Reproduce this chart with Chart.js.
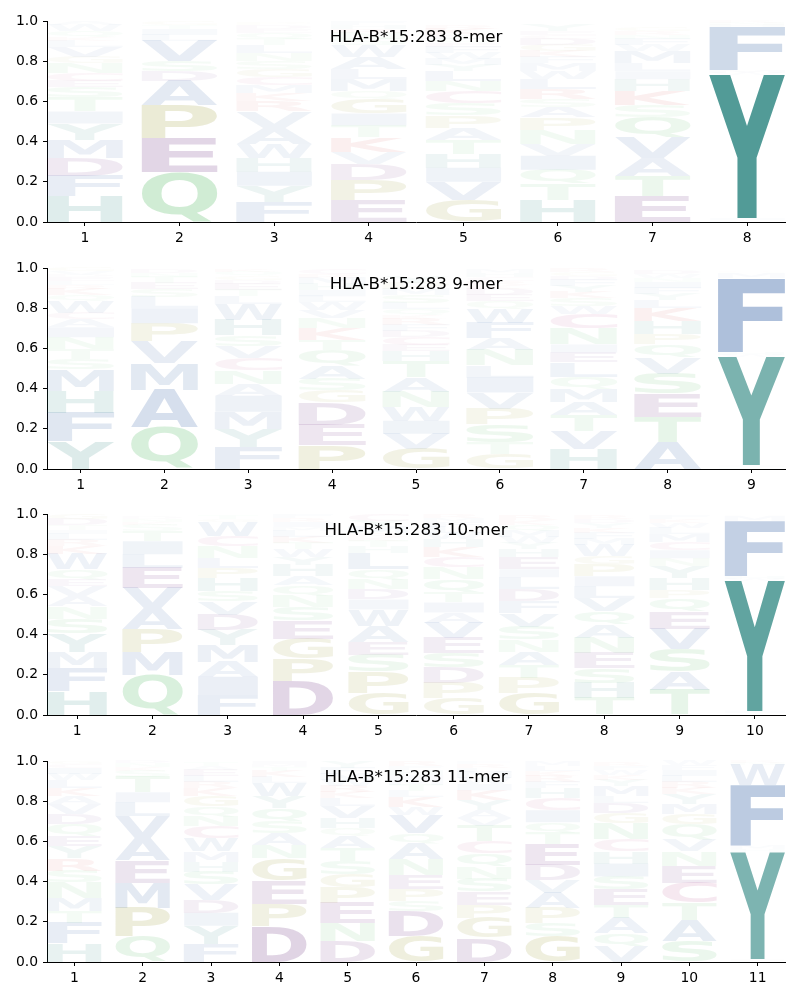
<!DOCTYPE html>
<html>
<head>
<meta charset="utf-8">
<script src="https://cdn.jsdelivr.net/npm/chart.js@4.4.0/dist/chart.umd.min.js"></script>
<style>
  html, body { margin: 0; padding: 0; background: #fff; }
  #wrap { position: relative; width: 800px; height: 1000px; }
  .panel { position: absolute; left: 0; width: 800px; height: 247px; }
</style>
</head>
<body>
<div id="wrap">
  <div class="panel" style="top:0px"><canvas id="c8"></canvas></div>
  <div class="panel" style="top:247px"><canvas id="c9"></canvas></div>
  <div class="panel" style="top:493px"><canvas id="c10"></canvas></div>
  <div class="panel" style="top:740px"><canvas id="c11"></canvas></div>
</div>
<script>
// letters per position, bottom to top; heights in percent of the stack
const letters8 = ["HFDMYITSECNGVLKQWA", "QEPADSVLITG", "FYIHWAVRKMCGSNLTQEDP", "EPDVKTIGQMLAWSNRHF",
  "GVIHTAPSCNLYMWFEQDKR", "HTQIVNPASRLWMFKGDCEY", "ETAVQSKHILMWFNRG", "LIYWMFHNR"];
const heights8 = [
  [13, 10, 9, 9, 8, 6, 7, 5, 3, 4, 5, 3, 5, 3, 2, 3, 3, 2],
  [25, 17, 16, 12, 5, 5, 10, 3, 3, 2, 2],
  [10, 8, 7, 7, 7, 8, 8, 5, 4, 4, 4, 4, 4, 4, 4, 3, 3, 2, 2, 1],
  [11, 10, 8, 6, 7, 6, 6, 7, 4, 6, 5, 6, 6, 3, 3, 2, 2, 2],
  [11, 9, 7, 7, 7, 6, 6, 6, 6, 5, 5, 3, 3, 3, 3, 2, 2, 2, 3, 2],
  [11, 8, 7, 7, 6, 7, 6, 5, 4, 5, 5, 4, 4, 3, 3, 3, 3, 2, 2, 3],
  [13, 10, 9, 10, 10, 6, 7, 6, 4, 4, 6, 3, 3, 2, 2, 2],
  [1, 1, 71, 1, 1.5, 21.5, 1, 1, 1]
];

const letters9 = ["YFHMSTNIACWQKRLEDVG", "QAMVPILSETND", "FYMIANCVSHWLTEDGQK", "PEDGSAQTKNVWLIHMRC",
  "GVIWNATHECDFRKQLSMPY", "GTSPVILNAFWQEDKRCHM", "HVTAMQLEINCWSKYFDGR", "ATESVQPHKLYFINWD", "LIYWHFMNR"];
const heights9 = [
  [14, 14, 11, 10.5, 5, 5, 6, 5, 4, 3, 6, 3, 3, 2, 2, 2, 1, 2, 2],
  [21, 18.5, 13, 11, 9, 7.5, 5.5, 4, 3, 3, 2, 2],
  [11, 9, 8.5, 8, 6, 6.5, 6, 6, 5.5, 7.5, 8, 4, 3, 3, 2, 2, 2, 1.5],
  [12, 10, 11, 6, 6, 6.5, 7.5, 5, 6, 5, 4, 4, 3, 3, 3, 3, 2, 2.5],
  [10, 7.5, 6.5, 7, 7.5, 7, 8, 5, 3, 4, 3, 3, 3, 2, 3, 3, 4, 3, 3, 3],
  [7.5, 6, 9, 7.5, 8, 7.5, 6, 7.5, 6, 7.5, 7, 4, 3, 3, 2, 2, 2, 2, 2],
  [10, 9, 8, 6.5, 6.5, 6, 7, 5, 4, 8, 7, 4, 4, 3, 3, 3, 2, 2, 2],
  [13.5, 12.5, 11.5, 10, 8, 6.5, 5, 6.5, 6.5, 4, 3, 3, 3, 2, 2, 2],
  [1, 0.8, 54, 1, 1.5, 36.5, 2.5, 0.5, 0.5]
];

const letters10 = ["HFMYSNAVEQWKRLITDG", "QMPAVELITSKND", "FIAMYDVSHPLNCWGT", "DPGESNQAHYWTKLMIRF",
  "GPSEAWIDNQLHTKRMYC", "GPDSEVAITQNCKHWLFMR", "GPTANSVFDLIEHYWMQKR", "THSENAQVLIPGWMFKYDR",
  "TASVEQPHYNICMLWKF", "LIYWHFMN"];
const heights10 = [
  [12, 11.5, 8, 9, 7.5, 6, 5, 5, 3.5, 5, 7.5, 4, 3, 3, 2, 2.5, 3, 2.5],
  [20, 11.5, 11.5, 10, 10, 10, 7, 6.5, 5, 3, 1.5, 1.5, 1],
  [10, 9, 7.5, 8.5, 7.5, 7.5, 6.5, 5, 6.5, 5, 5, 6, 5, 7, 1.5, 2],
  [17, 11, 10, 9, 6.5, 6, 5, 4.5, 5.5, 4, 4, 3, 3, 3, 2, 2.5, 2, 2],
  [11, 10.5, 8.5, 6.5, 8, 8, 5, 5, 5, 5, 8, 3, 3, 2, 2, 3, 3, 3],
  [8.5, 7.5, 7.5, 7.5, 7.5, 7.5, 5, 5, 5, 6.5, 6, 5, 5, 4, 3, 3, 2.5, 2, 2],
  [11, 7.5, 6.5, 6.5, 6, 6.5, 6.5, 6, 6, 6, 4, 6, 4, 3, 3, 3, 3, 2.5, 2.5],
  [8.5, 7.5, 7.5, 7.5, 7.5, 6.5, 6.5, 6.5, 6, 5, 6, 4, 5.5, 3, 3, 2.5, 2.5, 2, 2],
  [12.5, 9, 11.5, 10, 8.5, 6.5, 4, 6, 6, 4, 4, 4, 4, 3, 2.5, 2, 2],
  [1, 1.2, 64.6, 1, 1.5, 27, 2.5, 0.6]
];

const letters11 = ["HFTMNSRYEQDVAKLWICG", "QPMEAVLITSKND", "FYIDVSHMWCNQGKRLEAT", "DPEGNASQYWLKTMI",
  "DNEPGSTAQHVLKRWMFY", "GDSPENAQVWKLTMIHFR", "DGPESNQCTVAYKIWMLRF", "GSPAVDETQICHFRKLM",
  "VQATESIHCNGDLMYKWFR", "SATCENVQGMYKRLIFW", "LIYHMFWNR"];
const heights11 = [
  [9.5, 10, 6, 6.5, 7.5, 6, 6, 6, 5, 6, 5, 5, 4, 4, 4, 3, 3, 2, 1.5],
  [13, 14, 12.5, 11, 11, 11, 7, 5, 7.5, 3, 2, 2, 1.5],
  [9, 9, 6.5, 6.5, 7.5, 6.5, 5, 5, 6.5, 6, 5, 5, 5, 4, 3, 3, 3, 2, 2],
  [18, 11, 11.5, 11, 6.5, 6, 6, 6.5, 6, 6.5, 3, 3, 2, 1.5, 1.5],
  [10.5, 9, 10, 7.5, 6.5, 6.5, 6.5, 6, 4, 5, 6, 4, 3, 3, 3, 3, 3, 3],
  [13, 12.5, 5, 6, 7, 7.5, 8, 5, 9, 4, 5, 3, 3, 2.5, 2.5, 2.5, 2, 2.3],
  [12, 10, 6.5, 6.5, 6.5, 6, 6.5, 6, 7.5, 4, 4, 5, 5, 3, 3, 3, 2, 2, 1],
  [13, 6.5, 7.5, 7.5, 6.5, 7.5, 10, 6, 5, 6, 6, 5, 3, 3, 2.5, 2.5, 2.5],
  [8, 6.5, 7.5, 6.5, 7.5, 6.5, 6.5, 6, 6, 8, 5, 5, 3.5, 5, 3, 2.5, 2.5, 2, 2],
  [10.5, 10.5, 8.5, 10, 8.5, 7, 6, 7.5, 5, 5, 5, 3, 3, 3, 3, 2.5, 2.5],
  [0.7, 0.6, 53.4, 1.5, 1.8, 30, 10, 1, 1]
];

const panels = [
  { id: "c8", title: "HLA-B*15:283 8-mer", letters: letters8, heights: heights8 },
  { id: "c9", title: "HLA-B*15:283 9-mer", letters: letters9, heights: heights9 },
  { id: "c10", title: "HLA-B*15:283 10-mer", letters: letters10, heights: heights10 },
  { id: "c11", title: "HLA-B*15:283 11-mer", letters: letters11, heights: heights11 }
];

// residue colour groups; opacity follows the letter height
const groupColor = {
  blue: [32, 83, 155], teal: [11, 114, 108], purple: [85, 14, 108],
  green: [67, 179, 83], olive: [128, 128, 0], red: [200, 30, 30], pink: [170, 30, 110]
};
const residueGroup = {
  A: "blue", V: "blue", L: "blue", I: "blue", M: "blue", F: "blue", W: "blue",
  Y: "teal", H: "teal", D: "purple", E: "purple",
  S: "green", T: "green", N: "green", Q: "green",
  G: "olive", P: "olive", K: "red", R: "red", C: "pink"
};

const FONT = "DejaVu Sans";
const glyphCache = {};
function glyph(ctx, ch) {
  if (!glyphCache[ch]) {
    ctx.save();
    ctx.font = `bold 200px "${FONT}"`;
    const m = ctx.measureText(ch);
    ctx.restore();
    glyphCache[ch] = {
      l: m.actualBoundingBoxLeft, a: m.actualBoundingBoxAscent,
      w: m.actualBoundingBoxLeft + m.actualBoundingBoxRight,
      h: m.actualBoundingBoxAscent + m.actualBoundingBoxDescent
    };
  }
  return glyphCache[ch];
}

const logoPlugin = {
  id: "logo",
  afterDatasetsDraw(chart) {
    const ctx = chart.ctx;
    chart.data.datasets.forEach((ds, d) => {
      const meta = chart.getDatasetMeta(d);
      meta.data.forEach((bar, i) => {
        const ch = ds.letters[i];
        const h = ds.data[i].y;
        if (!ch || !h) return;
        const p = bar.getProps(["x", "y", "base", "width"], true);
        const top = Math.min(p.y, p.base), bh = Math.abs(p.base - p.y);
        if (bh < 0.3) return;
        const g = glyph(ctx, ch);
        const c = groupColor[residueGroup[ch]];
        ctx.save();
        ctx.font = `bold 200px "${FONT}"`;
        ctx.textAlign = "left";
        ctx.textBaseline = "alphabetic";
        ctx.fillStyle = `rgba(${c[0]},${c[1]},${c[2]},${Math.min(1, h)})`;
        ctx.translate(p.x - p.width / 2, top);
        ctx.scale(p.width / g.w, bh / g.h);
        ctx.fillText(ch, g.l, g.a);
        ctx.restore();
      });
    });
    const area = chart.chartArea;
    ctx.save();
    ctx.font = `16.7px "${FONT}"`;
    ctx.fillStyle = "#000";
    ctx.textAlign = "center";
    ctx.textBaseline = "alphabetic";
    ctx.fillText(chart.options.plugins.logo.title, (area.left + area.right) / 2, area.top + 21.3);
    ctx.restore();
  }
};

const tickFont = { family: FONT, size: 13.9 };

panels.forEach(panel => {
  const positions = panel.letters.map((_, i) => i + 1);
  const depth = Math.max(...panel.letters.map(s => s.length));
  const datasets = [];
  for (let k = 0; k < depth; k++) {
    datasets.push({
      data: positions.map((p, i) => ({ x: p, y: (panel.heights[i][k] || 0) / 100 })),
      letters: positions.map((p, i) => panel.letters[i][k] || ""),
      backgroundColor: "rgba(0,0,0,0)",
      borderWidth: 0,
      categoryPercentage: 1,
      barPercentage: 0.8
    });
  }

  new Chart(document.getElementById(panel.id), {
    type: "bar",
    data: { datasets },
    plugins: [logoPlugin],
    options: {
      responsive: true,
      maintainAspectRatio: false,
      animation: false,
      events: [],
      layout: { padding: { left: 0, right: 15, top: 21, bottom: 0 } },
      plugins: { legend: { display: false }, tooltip: { enabled: false }, logo: { title: panel.title } },
      scales: {
        x: {
          type: "linear",
          stacked: true,
          offset: false,
          min: 0.6,
          max: positions.length + 0.4,
          afterBuildTicks: s => { s.ticks = positions.map(v => ({ value: v })); },
          afterFit: s => { s.height = 25; },
          ticks: { color: "#000", font: tickFont, padding: 4, maxRotation: 0, autoSkip: false, callback: v => String(v) },
          grid: { offset: false, drawOnChartArea: false, drawTicks: true, tickLength: 4, color: "#000" },
          border: { color: "#000", width: 1 }
        },
        y: {
          stacked: true,
          min: 0,
          max: 1,
          afterFit: s => { s.width = 47; },
          ticks: { color: "#000", font: tickFont, padding: 5, stepSize: 0.2, callback: v => v.toFixed(1) },
          grid: { drawOnChartArea: false, drawTicks: true, tickLength: 4, color: "#000" },
          border: { color: "#000", width: 1 }
        }
      }
    }
  });
});
</script>
</body>
</html>
